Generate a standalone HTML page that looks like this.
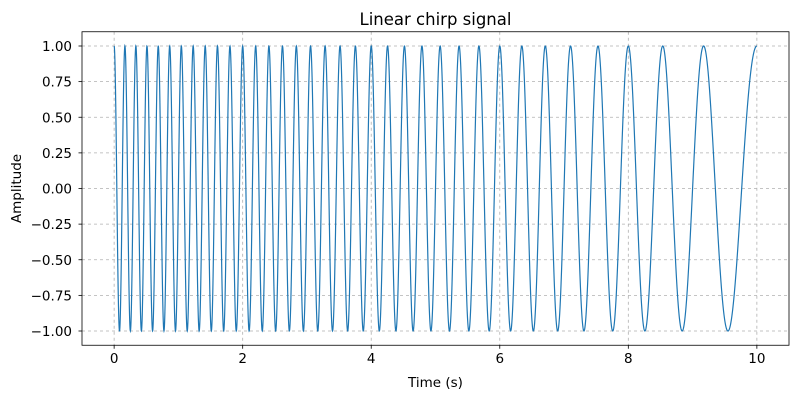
<!DOCTYPE html>
<html><head><meta charset="utf-8"><style>
body{margin:0;background:#fff;}
svg{display:block;font-family:"DejaVu Sans","Liberation Sans",sans-serif;}
</style></head><body>
<svg id="chart" width="800" height="400"></svg>
<script>
// chirp parameters
const startFreq = [6];
const endFreq = [1];
const duration = [10];
const xTicks = [0, 2, 4, 6, 8, 10];
const yTicks = [1.0, 0.75, 0.5, 0.25, 0.0, -0.25, -0.5, -0.75, -1.0];
const titleText = ["Linear chirp signal"];

const L = 82, R = 789, T = 31.75, B = 345.25;
const xMin = -0.5, xMax = 10.5, yMin = -1.1, yMax = 1.1;
const sx = v => L + (v - xMin) / (xMax - xMin) * (R - L);
const sy = v => B - (v - yMin) / (yMax - yMin) * (B - T);
const NS = "http://www.w3.org/2000/svg";
const svg = document.getElementById('chart');
function mk(tag, attrs, parent) {
  const e = document.createElementNS(NS, tag);
  for (const k in attrs) e.setAttribute(k, attrs[k]);
  (parent || svg).appendChild(e);
  return e;
}
// grid
xTicks.forEach(t => {
  const g = mk('line', {x1: sx(t), x2: sx(t), y1: T, y2: B, stroke: '#b0b0b0', 'stroke-width': 0.8, 'stroke-dasharray': '3,3'});
  
  
});
yTicks.forEach(t => {
  const g = mk('line', {x1: L, x2: R, y1: sy(t), y2: sy(t), stroke: '#b0b0b0', 'stroke-width': 0.8, 'stroke-dasharray': '3,3'});
  
  
});
// series
const f0 = startFreq[0], f1 = endFreq[0], t1 = duration[0];
let d = '';
const N = 4000;
for (let i = 0; i <= N; i++) {
  const t = t1 * i / N;
  const y = Math.cos(2 * Math.PI * (f0 * t + (f1 - f0) / (2 * t1) * t * t));
  d += (i ? 'L' : 'M') + sx(t).toFixed(2) + ',' + sy(y).toFixed(2);
}
const line = mk('path', {d: d, fill: 'none', stroke: '#1f77b4', 'stroke-width': 1.2});


// frame
const fr = mk('rect', {x: L, y: T, width: R - L, height: B - T, fill: 'none', stroke: '#000', 'stroke-width': 0.8});


// ticks
xTicks.forEach(t => {
  mk('line', {x1: sx(t), x2: sx(t), y1: B, y2: B + 3.5, stroke: '#000', 'stroke-width': 0.8});
  const tx = mk('text', {x: sx(t), y: B + 17.5, 'font-size': 13.5, 'text-anchor': 'middle', fill: '#000'});
  tx.textContent = t;
  
  
});
yTicks.forEach(t => {
  mk('line', {x1: L - 3.5, x2: L, y1: sy(t), y2: sy(t), stroke: '#000', 'stroke-width': 0.8});
  const tx = mk('text', {x: L - 10, y: sy(t) + 5, 'font-size': 13.5, 'text-anchor': 'end', fill: '#000'});
  tx.textContent = t.toFixed(2).replace('-', '\u2212');
  
  
});
const ti = mk('text', {x: (L + R) / 2, y: 25, 'font-size': 16.5, 'text-anchor': 'middle', fill: '#000'});
ti.textContent = titleText[0];


const xl = mk('text', {x: (L + R) / 2, y: 387, 'font-size': 13.5, 'text-anchor': 'middle', fill: '#000'});
xl.textContent = 'Time (s)';


const yl = mk('text', {x: 21, y: (T + B) / 2, 'font-size': 13.5, 'text-anchor': 'middle', fill: '#000', transform: `rotate(-90 21 ${(T + B) / 2})`});
yl.textContent = 'Amplitude';


</script>
</body></html>
